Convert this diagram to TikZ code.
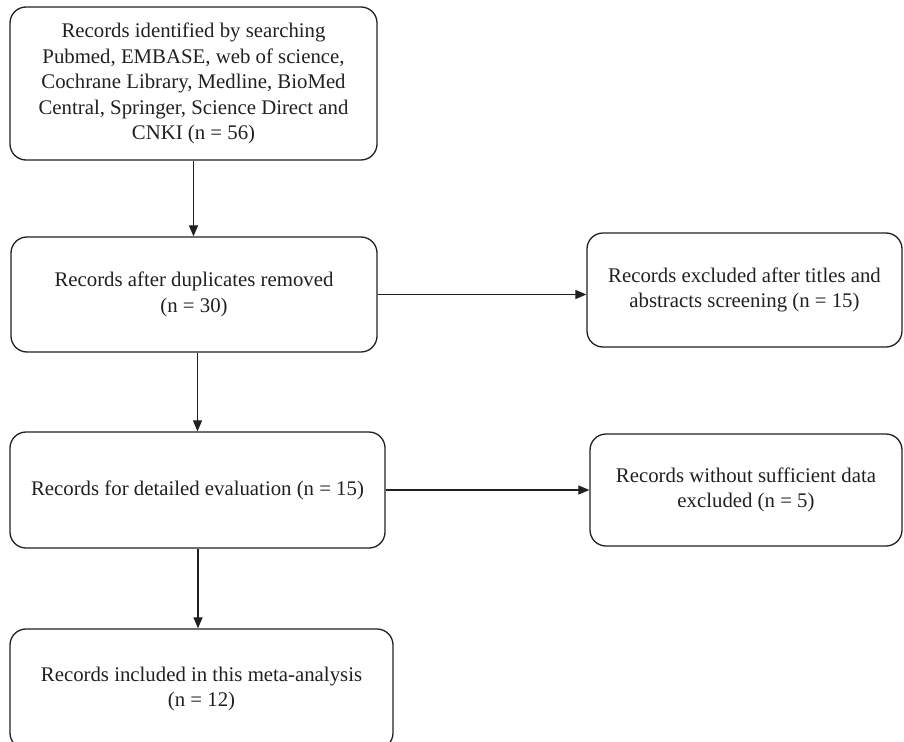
\documentclass[tikz,border=0pt]{standalone}
\usepackage{fontspec}
\setmainfont{Liberation Serif}
\usetikzlibrary{arrows.meta}
\definecolor{ink}{HTML}{231F20}
\tikzset{
  box/.style={draw=ink, line width=1.3pt, rounded corners=16pt, align=center,
    text=ink, inner sep=0pt, font=\fontsize{20.8}{25.6}\selectfont},
  flow/.style={draw=ink, line width=1.2pt, -{Triangle[length=11pt,width=9pt]}}
}
\begin{document}
\begin{tikzpicture}[x=1pt,y=1pt]
\useasboundingbox (0,0) rectangle (904,-741);
\clip (0,0) rectangle (904,-741);
\node[box, minimum width=367pt, minimum height=153pt] (b1) at (193.5,-83.5)
  {Records identified by searching\\Pubmed, EMBASE, web of science,\\Cochrane Library, Medline, BioMed\\Central, Springer, Science Direct and\\CNKI (n = 56)};
\node[box, minimum width=366pt, minimum height=115pt] (b2) at (194,-294.5)
  {Records after duplicates removed\\(n = 30)};
\node[box, minimum width=375pt, minimum height=116pt] (b3) at (197.5,-490)
  {Records for detailed evaluation (n = 15)};
\node[box, minimum width=383pt, minimum height=120pt] (b4) at (201.5,-689)
  {Records included in this meta-analysis\\(n = 12)};
\node[box, minimum width=315pt, minimum height=114pt] (r1) at (744.5,-290)
  {Records excluded after titles and\\abstracts screening (n = 15)};
\node[box, minimum width=312pt, minimum height=112pt] (r2) at (746,-490)
  {Records without sufficient data\\excluded (n = 5)};
\draw[flow] (b1) -- (b1 |- b2.north);
\draw[flow] (b3 |- b2.south) -- (b3.north);
\draw[flow] (b3.south) ++(0.5,0) coordinate (s3) -- (s3 |- b4.north);
\draw[flow] (b2.east) -- (b2.east -| r1.west);
\draw[flow] (b3.east) -- (b3.east -| r2.west);
\end{tikzpicture}
\end{document}
